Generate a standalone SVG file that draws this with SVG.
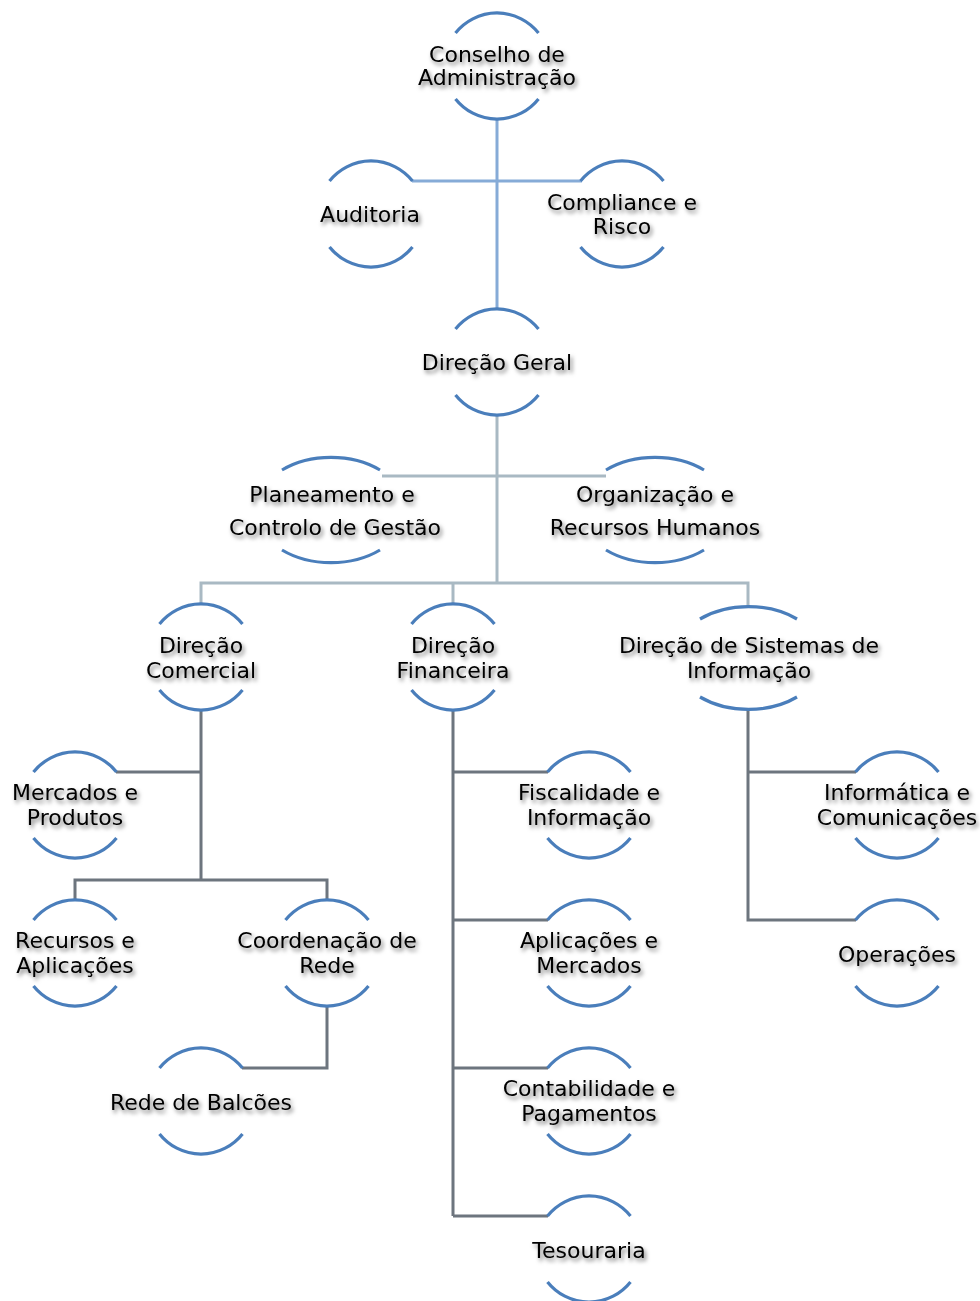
<svg xmlns="http://www.w3.org/2000/svg" width="980" height="1301" viewBox="0 0 980 1301">
<defs>
<filter id="sh" x="-10%" y="-30%" width="120%" height="160%">
<feDropShadow dx="2" dy="3" stdDeviation="2" flood-color="#000" flood-opacity="0.55"/>
</filter>
</defs>
<style>
.arc{fill:none;stroke:#4a7ebb;stroke-width:3.2;stroke-linecap:butt}
.t{font-family:"DejaVu Sans",Verdana,sans-serif;font-size:22px;fill:#000;text-anchor:middle;filter:url(#sh)}
.c1{fill:none;stroke:#86abd7;stroke-width:3}
.c2{fill:none;stroke:#a9b9c3;stroke-width:3}
.c3{fill:none;stroke:#6d757e;stroke-width:3}
</style>
<rect width="980" height="1301" fill="#fff"/>
<g id="connectors">
<path class="c1" d="M497 118V309M412 181H582"/>
<path class="c2" d="M497 414V584M382 476H606M201 605V583H748V607M453 583V605"/>
<path class="c3" d="M201 709V880M116 772H201M75 901V880H327V901M327 1005V1068H242M453 709V1216M453 772H548M453 920H548M453 1068H548M453 1216H548M748 709V920H856M748 772H856"/>
</g>
<g id="n-conselho">
<path class="arc" d="M455.5 33A53 53 0 0 1 538.5 33M455.5 99A53 53 0 0 0 538.5 99"/>
<text class="t" x="497" y="62">Conselho de</text><text class="t" x="497" y="85">Administração</text>
</g>
<g id="n-auditoria">
<path class="arc" d="M329.5 181A53 53 0 0 1 412.5 181M329.5 247A53 53 0 0 0 412.5 247"/>
<text class="t" x="370" y="222">Auditoria</text>
</g>
<g id="n-compliance">
<path class="arc" d="M580.5 181A53 53 0 0 1 663.5 181M580.5 247A53 53 0 0 0 663.5 247"/>
<text class="t" x="622" y="210">Compliance e</text><text class="t" x="622" y="234">Risco</text>
</g>
<g id="n-geral">
<path class="arc" d="M455.5 329A53 53 0 0 1 538.5 329M455.5 395A53 53 0 0 0 538.5 395"/>
<text class="t" x="497" y="370">Direção Geral</text>
</g>
<g id="n-planeamento">
<path class="arc" d="M282 470A75 52 0 0 1 380 470M282 550A75 52 0 0 0 380 550"/>
<text class="t" x="332" y="502">Planeamento e</text><text class="t" x="335" y="535">Controlo de Gestão</text>
</g>
<g id="n-organizacao">
<path class="arc" d="M606 470A75 52 0 0 1 704 470M606 550A75 52 0 0 0 704 550"/>
<text class="t" x="655" y="502">Organização e</text><text class="t" x="655" y="535">Recursos Humanos</text>
</g>
<g id="n-comercial">
<path class="arc" d="M159.5 624A53 53 0 0 1 242.5 624M159.5 690A53 53 0 0 0 242.5 690"/>
<text class="t" x="201" y="653">Direção</text><text class="t" x="201" y="678">Comercial</text>
</g>
<g id="n-financeira">
<path class="arc" d="M411.5 624A53 53 0 0 1 494.5 624M411.5 690A53 53 0 0 0 494.5 690"/>
<text class="t" x="453" y="653">Direção</text><text class="t" x="453" y="678">Financeira</text>
</g>
<g id="n-sistemas">
<path class="arc" d="M700 619A75 52 0 0 1 797 619M700 697A75 52 0 0 0 797 697"/>
<text class="t" x="749" y="653">Direção de Sistemas de</text><text class="t" x="749" y="678">Informação</text>
</g>
<g id="n-mercados">
<path class="arc" d="M33.5 772A53 53 0 0 1 116.5 772M33.5 838A53 53 0 0 0 116.5 838"/>
<text class="t" x="75" y="800">Mercados e</text><text class="t" x="75" y="825">Produtos</text>
</g>
<g id="n-recursos">
<path class="arc" d="M33.5 920A53 53 0 0 1 116.5 920M33.5 986A53 53 0 0 0 116.5 986"/>
<text class="t" x="75" y="948">Recursos e</text><text class="t" x="75" y="973">Aplicações</text>
</g>
<g id="n-coordenacao">
<path class="arc" d="M285.5 920A53 53 0 0 1 368.5 920M285.5 986A53 53 0 0 0 368.5 986"/>
<text class="t" x="327" y="948">Coordenação de</text><text class="t" x="327" y="973">Rede</text>
</g>
<g id="n-rede">
<path class="arc" d="M159.5 1068A53 53 0 0 1 242.5 1068M159.5 1134A53 53 0 0 0 242.5 1134"/>
<text class="t" x="201" y="1110">Rede de Balcões</text>
</g>
<g id="n-fiscalidade">
<path class="arc" d="M547.5 772A53 53 0 0 1 630.5 772M547.5 838A53 53 0 0 0 630.5 838"/>
<text class="t" x="589" y="800">Fiscalidade e</text><text class="t" x="589" y="825">Informação</text>
</g>
<g id="n-aplicacoes">
<path class="arc" d="M547.5 920A53 53 0 0 1 630.5 920M547.5 986A53 53 0 0 0 630.5 986"/>
<text class="t" x="589" y="948">Aplicações e</text><text class="t" x="589" y="973">Mercados</text>
</g>
<g id="n-contabilidade">
<path class="arc" d="M547.5 1068A53 53 0 0 1 630.5 1068M547.5 1134A53 53 0 0 0 630.5 1134"/>
<text class="t" x="589" y="1096">Contabilidade e</text><text class="t" x="589" y="1121">Pagamentos</text>
</g>
<g id="n-tesouraria">
<path class="arc" d="M547.5 1216A53 53 0 0 1 630.5 1216M547.5 1282A53 53 0 0 0 630.5 1282"/>
<text class="t" x="589" y="1258">Tesouraria</text>
</g>
<g id="n-informatica">
<path class="arc" d="M855.5 772A53 53 0 0 1 938.5 772M855.5 838A53 53 0 0 0 938.5 838"/>
<text class="t" x="897" y="800">Informática e</text><text class="t" x="897" y="825">Comunicações</text>
</g>
<g id="n-operacoes">
<path class="arc" d="M855.5 920A53 53 0 0 1 938.5 920M855.5 986A53 53 0 0 0 938.5 986"/>
<text class="t" x="897" y="962">Operações</text>
</g>
</svg>
